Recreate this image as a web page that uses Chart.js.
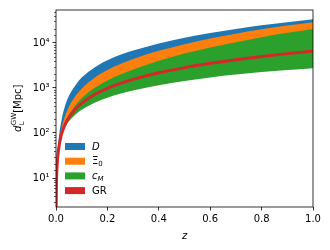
<!DOCTYPE html>
<html>
<head>
<meta charset="utf-8">
<script src="https://cdn.jsdelivr.net/npm/chart.js@4.4.1/dist/chart.umd.min.js"></script>
<style>
  body { margin: 0; background: #fff; }
  canvas { display: block; }
</style>
</head>
<body>
<canvas id="dlChart" width="330" height="250"></canvas>
<script>
// redshift samples
const zValues = [0.0005, 0.002, 0.005, 0.01, 0.02, 0.035, 0.05, 0.075, 0.1, 0.15, 0.2, 0.25, 0.3, 0.4, 0.5, 0.6, 0.7, 0.8, 0.9, 1.0];
// luminosity distances [Mpc]
const grDist  = [2.1, 8.6, 21.5, 43, 87, 153, 221, 336, 460, 715, 983, 1265, 1555, 2170, 2832, 3530, 4260, 5020, 5800, 6600];
const dUpper  = [2.2, 9.9, 29, 69, 174, 398, 663, 1142, 1702, 2860, 4129, 5440, 6764, 9765, 13027, 16591, 20448, 24598, 29000, 33660];
const xiUpper = [2.1, 9.0, 24, 52, 117, 237, 380, 655, 966, 1680, 2507, 3416, 4432, 6684, 9346, 12532, 16103, 20080, 24360, 29040];
const cmUpper = [2.1, 8.7, 21.9, 44.7, 93, 170, 254, 410, 598, 1001, 1475, 1999, 2581, 4015, 5806, 7943, 10437, 13454, 16820, 20460];
const cmLower = [2.1, 8.5, 20.9, 40.9, 79, 132, 181, 255, 327, 472, 609, 746, 879, 1150, 1430, 1712, 1981, 2259, 2494, 2739];

const xTickValues = [0, 0.2, 0.4, 0.6, 0.8, 1.0];
const xTickLabels = ['0.0', '0.2', '0.4', '0.6', '0.8', '1.0'];
const yTickValues = [10, 100, 1000, 10000];
const yTickLabels = ['10\u00B9', '10\u00B2', '10\u00B3', '10\u2074'];

const seriesNames = ['D', 'Ξ0', 'cM', 'GR'];
const seriesColors = ['#1f77b4', '#ff7f0e', '#2ca02c', '#d62728'];

const FONT = "'DejaVu Sans', sans-serif";

function pts(ys) {
  return zValues.map((z, i) => ({ x: z, y: ys[i] }));
}

function band(data, color, fillTarget, order) {
  return {
    data: pts(data),
    borderColor: 'transparent',
    borderWidth: 0,
    backgroundColor: color,
    pointRadius: 0,
    fill: fillTarget,
    cubicInterpolationMode: 'monotone',
    order: order
  };
}

// draws a run of text pieces, some italic / sub / superscript
function drawRich(ctx, x, y, parts) {
  let cx = x;
  parts.forEach(p => {
    const size = p.sub || p.sup ? 7 : 10;
    ctx.font = (p.it ? 'italic ' : '') + size + 'px ' + FONT;
    const dy = p.sub ? 2.5 : (p.sup ? -4.5 : 0);
    ctx.fillText(p.t, cx, y + dy);
    cx += ctx.measureText(p.t).width;
  });
  return cx - x;
}

function richWidth(ctx, parts) {
  let w = 0;
  parts.forEach(p => {
    const size = p.sub || p.sup ? 7 : 10;
    ctx.font = (p.it ? 'italic ' : '') + size + 'px ' + FONT;
    w += ctx.measureText(p.t).width;
  });
  return w;
}

const legendParts = {
  'D': [{ t: 'D', it: true }],
  'Ξ0': [{ t: 'Ξ' }, { t: '0', sub: true }],
  'cM': [{ t: 'c', it: true }, { t: 'M', it: true, sub: true }],
  'GR': [{ t: 'GR' }]
};

const decorPlugin = {
  id: 'decor',
  afterDraw(chart) {
    const ctx = chart.ctx;
    const area = chart.chartArea;
    const yScale = chart.scales.y;
    ctx.save();

    // minor log ticks
    ctx.strokeStyle = '#000';
    ctx.lineWidth = 0.6;
    yScale.ticks.forEach(t => {
      if (yTickValues.includes(t.value)) return;
      if (t.value <= yScale.min || t.value >= yScale.max) return;
      const py = Math.round(yScale.getPixelForValue(t.value)) + 0.5;
      ctx.beginPath();
      ctx.moveTo(area.left, py);
      ctx.lineTo(area.left - 2, py);
      ctx.stroke();
    });

    // frame
    ctx.lineWidth = 0.8;
    ctx.strokeStyle = '#000';
    ctx.strokeRect(area.left, area.top, area.right - area.left, area.bottom - area.top);

    // x axis label
    ctx.fillStyle = '#000';
    ctx.textAlign = 'center';
    ctx.textBaseline = 'alphabetic';
    ctx.font = 'italic 10px ' + FONT;
    ctx.fillText('z', (area.left + area.right) / 2, 239);

    // y axis label
    const yParts = [{ t: 'd', it: true }, { t: 'L', sub: true }, { t: 'GW', sup: true }, { t: '[Mpc]' }];
    ctx.textAlign = 'left';
    ctx.save();
    ctx.translate(21, (area.top + area.bottom) / 2);
    ctx.rotate(-Math.PI / 2);
    // subscript and superscript are stacked, so measure without the L
    const w = richWidth(ctx, yParts) - richWidth(ctx, [yParts[1]]);
    let cx = -w / 2;
    ctx.font = 'italic 10px ' + FONT;
    ctx.fillText('d', cx, 0);
    cx += ctx.measureText('d').width + 0.5;
    ctx.font = '7px ' + FONT;
    ctx.fillText('L', cx, 3);
    ctx.fillText('GW', cx, -5);
    cx += ctx.measureText('GW').width;
    ctx.font = '10px ' + FONT;
    ctx.fillText('[Mpc]', cx, 0);
    ctx.restore();

    // legend
    const lx = 65, ly = 146.5, step = 14.7;
    seriesNames.forEach((name, i) => {
      const y = ly + i * step;
      ctx.fillStyle = seriesColors[i];
      ctx.fillRect(lx, y - 3.5, 20, 7);
      ctx.fillStyle = '#000';
      ctx.textBaseline = 'middle';
      drawRich(ctx, lx + 27, y + 0.5, legendParts[name]);
    });

    ctx.restore();
  }
};

document.addEventListener('DOMContentLoaded', function () {
  const chartElement = document.getElementById('dlChart');
  Chart.defaults.color = '#000';
  Chart.defaults.font.family = FONT;
  Chart.defaults.font.size = 10;

  const datasets = [
    {
      data: pts(grDist),
      borderColor: seriesColors[3],
      borderWidth: 3,
      pointRadius: 0,
      fill: false,
      cubicInterpolationMode: 'monotone',
      order: 0
    },
    band(cmUpper, seriesColors[2], 2, 1),
    band(cmLower, 'transparent', false, 1),
    band(xiUpper, seriesColors[1], 4, 2),
    band(grDist, 'transparent', false, 2),
    band(dUpper, seriesColors[0], 6, 3),
    band(grDist, 'transparent', false, 3)
  ];

  new Chart(chartElement, {
    type: 'line',
    data: { datasets: datasets },
    plugins: [decorPlugin],
    options: {
      responsive: false,
      animation: false,
      devicePixelRatio: 1,
      layout: { padding: { left: 0, right: 17, top: 10, bottom: 0 } },
      plugins: {
        legend: { display: false },
        tooltip: { enabled: false },
        filler: { propagate: false }
      },
      scales: {
        x: {
          type: 'linear',
          min: 0,
          max: 1,
          afterBuildTicks: scale => { scale.ticks = xTickValues.map(v => ({ value: v })); },
          afterFit: scale => { scale.height = 43; },
          border: { display: false },
          grid: { drawOnChartArea: false, drawTicks: true, tickLength: 3.5, tickColor: '#000', tickWidth: 0.8 },
          ticks: {
            autoSkip: false,
            maxRotation: 0,
            padding: 3,
            callback: function (value) {
              const i = xTickValues.findIndex(v => Math.abs(v - value) < 1e-9);
              return i >= 0 ? xTickLabels[i] : '';
            }
          }
        },
        y: {
          type: 'logarithmic',
          min: 2.27,
          max: 54000,
          afterFit: scale => { scale.width = 56; },
          border: { display: false },
          grid: {
            drawOnChartArea: false,
            drawTicks: true,
            tickLength: 3.5,
            tickWidth: 0.8,
            tickColor: ctx => (ctx.tick && yTickValues.includes(ctx.tick.value)) ? '#000' : 'rgba(0,0,0,0)'
          },
          ticks: {
            autoSkip: false,
            padding: 3,
            callback: function (value) {
              const i = yTickValues.indexOf(value);
              return i >= 0 ? yTickLabels[i] : '';
            }
          }
        }
      }
    }
  });
});
</script>
</body>
</html>
